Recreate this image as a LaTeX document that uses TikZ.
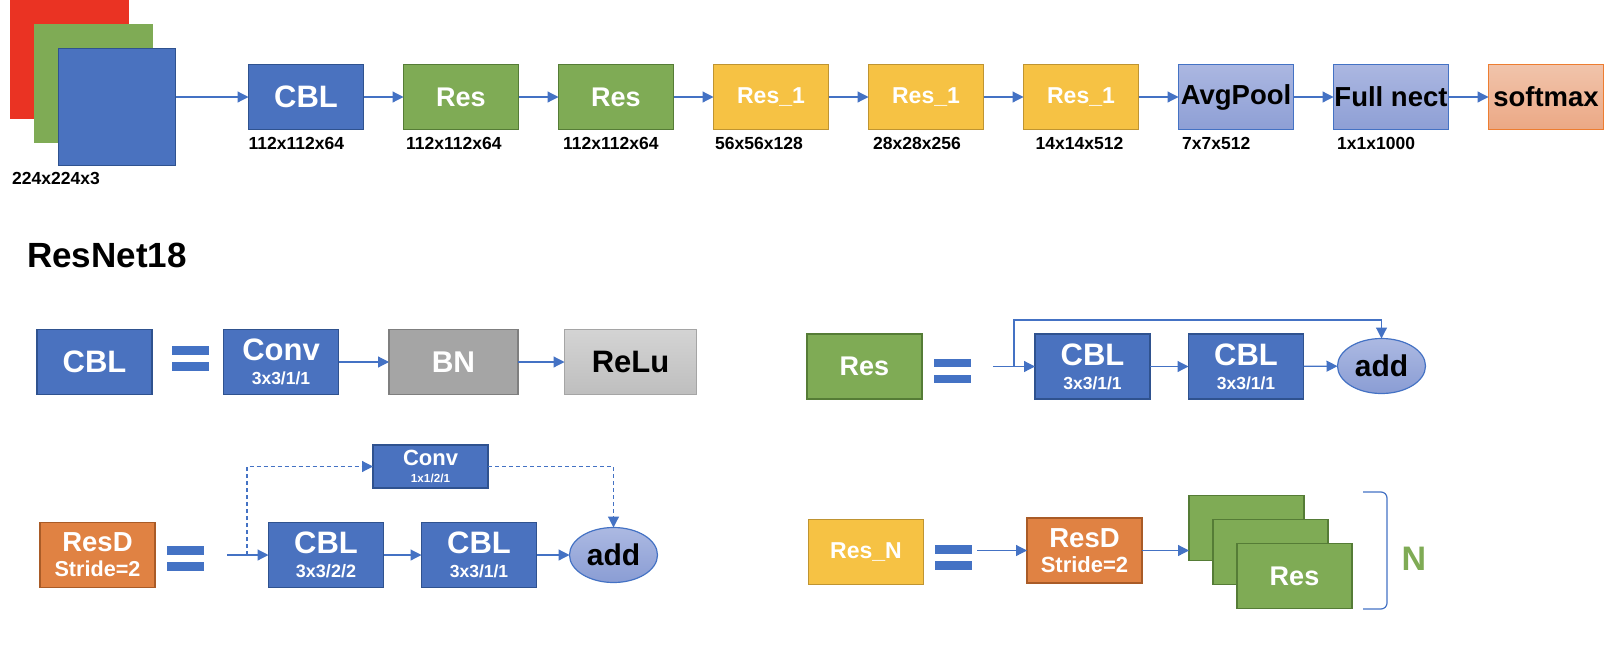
\documentclass[tikz,border=0pt]{standalone}
\usepackage{fontspec}
\setmainfont{Liberation Sans}
\usetikzlibrary{shapes.geometric, arrows.meta, positioning, calc}
\definecolor{BoxBlue}{HTML}{4A72BF}
\definecolor{BoxBlueDark}{HTML}{2F528F}
\definecolor{LineBlue}{HTML}{4472C4}
\definecolor{ResGreen}{HTML}{7FAB55}
\definecolor{ResGreenDark}{HTML}{557C36}
\definecolor{ResYellow}{HTML}{F6C244}
\definecolor{ResYellowDark}{HTML}{BF9431}
\definecolor{ResDOrange}{HTML}{E08243}
\definecolor{ResDOrangeDark}{HTML}{A95B27}
\definecolor{PoolTop}{HTML}{ABB7E1}
\definecolor{PoolBottom}{HTML}{8E9FD5}
\definecolor{SoftTop}{HTML}{F1C4AB}
\definecolor{SoftBottom}{HTML}{EBA885}
\definecolor{SoftBorder}{HTML}{ED7D31}
\definecolor{AddTop}{HTML}{ACB9E2}
\definecolor{AddBottom}{HTML}{8A9DD4}
\definecolor{BNGray}{HTML}{A5A5A5}
\definecolor{BNGrayDark}{HTML}{7F7F7F}
\definecolor{ReluTop}{HTML}{D4D4D4}
\definecolor{ReluBottom}{HTML}{BEBEBE}
\definecolor{ImgRed}{HTML}{EA3323}

\newcommand{\setfs}[2]{\fontsize{#1}{#2}\selectfont}
% the "=" sign between a block and its definition
\newcommand{\eqsign}[1]{%
  \fill[LineBlue] ($(#1)+(-18.5,-12.25)$) rectangle ($(#1)+(18.5,-3.75)$);
  \fill[LineBlue] ($(#1)+(-18.5,3.75)$) rectangle ($(#1)+(18.5,12.25)$);
}

\begin{document}
\begin{tikzpicture}[
    x=1pt, y=-1pt,
    node distance=40pt,
    blk/.style={rectangle, draw, line width=1.8pt, outer sep=0pt, inner sep=0pt,
                minimum width=115pt, minimum height=65pt, align=center,
                font=\bfseries\setfs{31}{24}, text=white},
    cblbox/.style={blk, fill=BoxBlue, draw=BoxBlueDark},
    resbox/.style={blk, fill=ResGreen, draw=ResGreenDark, font=\bfseries\setfs{27}{24}},
    resonebox/.style={blk, fill=ResYellow, draw=ResYellowDark, font=\bfseries\setfs{23}{24}},
    resdbox/.style={blk, fill=ResDOrange, draw=ResDOrangeDark, font=\bfseries\setfs{27.5}{25}},
    poolbox/.style={blk, top color=PoolTop, bottom color=PoolBottom, draw=LineBlue,
                    line width=1.2pt, text=black, font=\bfseries\setfs{27.5}{24}},
    softbox/.style={poolbox, top color=SoftTop, bottom color=SoftBottom, draw=SoftBorder},
    bnbox/.style={blk, fill=BNGray, draw=BNGrayDark, minimum width=129pt, font=\bfseries\setfs{30}{24}},
    relubox/.style={blk, top color=ReluTop, bottom color=ReluBottom, draw=BNGray, line width=1.2pt,
                    minimum width=132pt, text=black},
    addnode/.style={ellipse, draw=LineBlue, line width=1.2pt, top color=AddTop, bottom color=AddBottom,
                    minimum width=88pt, minimum height=55pt, inner sep=0pt, outer sep=0pt,
                    font=\bfseries\setfs{30}{30}, text=black},
    imgsq/.style={rectangle, minimum width=119pt, minimum height=119pt, inner sep=0pt, outer sep=0pt},
    dimlbl/.style={font=\bfseries\setfs{17.5}{18}, inner sep=0pt, anchor=north west},
    conn/.style={draw=LineBlue, line width=1.2pt, -{Triangle[length=11pt, width=11pt]}},
    dconn/.style={conn, dash pattern=on 4pt off 3pt}
]
\useasboundingbox (0,0) rectangle (1618,646);

% input image
\node[imgsq, fill=ImgRed] (imgr) at (69.5,59) {};
\node[imgsq, fill=ResGreen] (imgg) at (93.5,83.5) {};
\node[imgsq, fill=BoxBlue, draw=BoxBlueDark, line width=1.8pt, minimum width=117pt, minimum height=117pt] (imgb) at (117,107) {};
\node[dimlbl] (dimimg) at (12,172) {224x224x3};

% main chain
\node[cblbox] (cbl) at (306,97) {CBL};
\node[resbox, right=of cbl] (res1) {Res};
\node[resbox, right=of res1] (res2) {Res};
\node[resonebox, right=of res2] (resa) {Res\_1};
\node[resonebox, right=of resa] (resb) {Res\_1};
\node[resonebox, right=of resb] (resc) {Res\_1};
\node[poolbox, right=of resc] (pool) {AvgPool};
\node[poolbox, right=of pool] (fc) {Full nect};
\node[softbox, right=of fc] (soft) {softmax};

\node[dimlbl] (dcbl) at ($(cbl.south west)+(0,8)$) {112x112x64};
\node[dimlbl] (dres1) at ($(res1.south west)+(2.5,8)$) {112x112x64};
\node[dimlbl] (dres2) at ($(res2.south west)+(4.5,8)$) {112x112x64};
\node[dimlbl] (dresa) at ($(resa.south west)+(1.5,8)$) {56x56x128};
\node[dimlbl] (dresb) at ($(resb.south west)+(4.5,8)$) {28x28x256};
\node[dimlbl] (dresc) at ($(resc.south west)+(12,8)$) {14x14x512};
\node[dimlbl] (dpool) at ($(pool.south west)+(3.5,8)$) {7x7x512};
\node[dimlbl] (dfc) at ($(fc.south west)+(3.5,8)$) {1x1x1000};

\draw[conn] (imgb.east |- cbl.west) -- (cbl.west);
\foreach \a/\b in {cbl/res1, res1/res2, res2/resa, resa/resb, resb/resc, resc/pool, pool/fc, fc/soft}
  \draw[conn] (\a) -- (\b);

\node[font=\bfseries\setfs{35}{35}, anchor=base west, inner sep=0pt] (title) at (27,267) {ResNet18};

% CBL = Conv -> BN -> ReLu
\node[cblbox] (cbldef) at (94.5,362) {CBL};
\coordinate (eqa) at (190,358.5);
\eqsign{eqa}
\node[cblbox] (conv) at (281,362) {Conv\\{\setfs{17.5}{24}3x3/1/1}};
\node[bnbox] (bn) at (453.5,362) {BN};
\node[relubox] (relu) at (630.5,362) {ReLu};
\draw[conn] (conv) -- (bn);
\draw[conn] (bn) -- (relu);

% Res = CBL -> CBL -> add
\node[resbox] (resdef) at (864.5,366.5) {Res};
\coordinate (eqc) at (952,371);
\eqsign{eqc}
\coordinate (ina) at (993,366.5);
\coordinate (tapa) at (1014,366.5);
\coordinate (skiptop) at (1014,320);
\node[cblbox] (cbla) at (1092.5,366.5) {CBL\\{\setfs{17.5}{24}3x3/1/1}};
\node[cblbox] (cblb) at (1246,366.5) {CBL\\{\setfs{17.5}{24}3x3/1/1}};
\node[addnode] (adda) at (1381.5,366) {add};
\draw[conn] (ina) -- (cbla);
\draw[conn] (cbla) -- (cblb);
\draw[conn] (cblb) -- (adda);
\draw[conn] (tapa) -- (skiptop) -| (adda.north);

% ResD = CBL -> CBL -> add, with a Conv shortcut
\node[resdbox] (resddef) at (97.5,555) {ResD\\{\setfs{21.6}{25}Stride=2}};
\coordinate (eqb) at (185,558.5);
\eqsign{eqb}
\coordinate (inb) at (227,555);
\coordinate (tapb) at (247,555);
\node[cblbox] (cblc) at (326,555) {CBL\\{\setfs{18}{24}3x3/2/2}};
\node[cblbox] (cble) at (479,555) {CBL\\{\setfs{17.5}{24}3x3/1/1}};
\node[addnode] (addb) at (613.5,555) {add};
\node[cblbox, minimum height=43pt, font=\bfseries\setfs{22}{17}] (convs) at (430.5,466.5) {Conv\\{\setfs{11.7}{17}1x1/2/1}};
\draw[conn] (inb) -- (cblc);
\draw[conn] (cblc) -- (cble);
\draw[conn] (cble) -- (addb);
\draw[dconn] (tapb) |- (convs.west);
\draw[dconn] (convs.east) -| (addb.north);

% Res_N = ResD -> N x Res
\node[resonebox] (resndef) at (866,552) {Res\_N};
\coordinate (eqd) at (953.5,557.5);
\eqsign{eqd}
\coordinate (inc) at (977,550.5);
\node[resdbox] (resd2) at (1084.5,550.5) {ResD\\{\setfs{22}{25}Stride=2}};
\node[resbox] (stacka) at (1246.5,528) {};
\node[resbox] (stackb) at (1270.5,552) {};
\node[resbox] (stackc) at (1294.5,576) {Res};
\draw[conn] (inc) -- (resd2);
\draw[conn] (resd2.east) -- (resd2.east -| stacka.west);
\draw[LineBlue, line width=1.2pt, rounded corners=6pt] (1363,492) -- (1387,492) -- (1387,609) -- (1363,609);
\node[font=\bfseries\setfs{34}{34}, text=ResGreen, inner sep=0pt] (ncount) at (1414,558.5) {N};
\end{tikzpicture}
\end{document}
